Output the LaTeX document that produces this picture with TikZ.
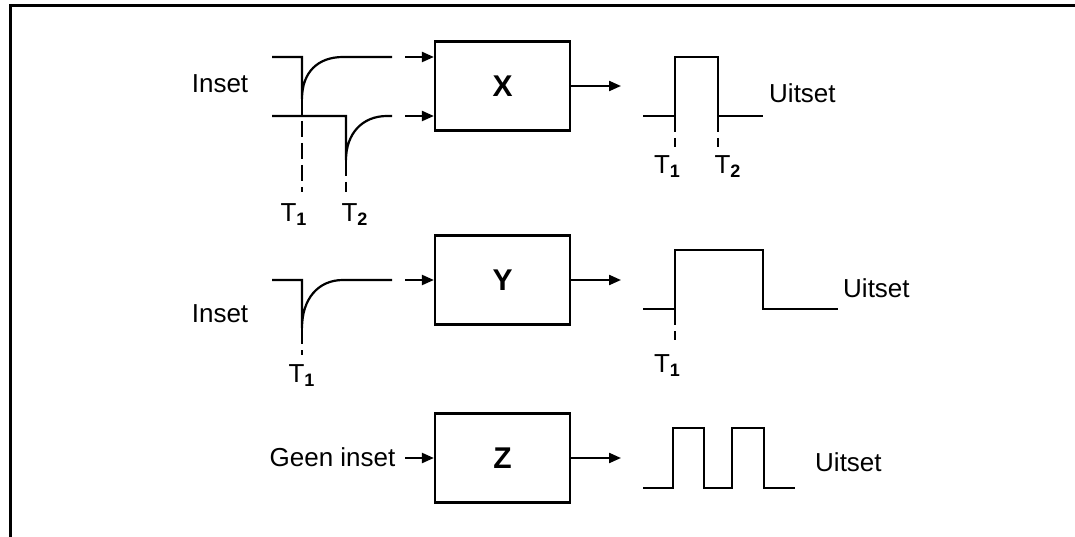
\documentclass[tikz,border=0pt]{standalone}
\usepackage{fontspec}
\setmainfont{Liberation Sans}
\usepackage{tikz}
\usetikzlibrary{arrows.meta,positioning}
\newcommand\tsub[1]{T\raisebox{-4pt}{\fontsize{18}{18}\selectfont\bfseries #1}}

\begin{document}
\begin{tikzpicture}[x=1pt,y=-1pt,
  sig/.style={line width=2.2pt},
  tick/.style={line width=2.2pt,dash pattern=on 16pt off 6pt},
  pijl/.style={line width=2.2pt,-{Triangle[length=12pt,width=10pt]}},
  blok/.style={draw,line width=2.2pt,minimum width=135pt,minimum height=89pt,inner sep=0pt,font=\fontsize{30}{32}\selectfont\bfseries},
  lbl/.style={inner sep=0pt,font=\fontsize{26}{30}\selectfont}]
\useasboundingbox (0,0) rectangle (1075,537);
\draw[line width=3.5pt] (1075,5.5) -- (10.5,5.5) -- (10.5,537);
%
% blokke
\node[blok] (X) at (502.5,86) {X};
\node[blok] (Y) at (502.5,280) {Y};
\node[blok] (Z) at (502.5,458) {Z};
%
% X: twee insette
\node[lbl,anchor=base] (insX) at (220,93) {Inset};
\draw[sig] (272,57) -- (302,57) -- (302,99) .. controls (302,72) and (318,57) .. (343,57) -- (392,57);
\draw[sig] (272,116) -- (346,116) -- (346,160) .. controls (346,134) and (362,116) .. (387,116) -- (392,116);
\draw[tick] (302,99) -- (302,192);
\draw[tick] (346,160) -- (346,192);
\node[lbl,anchor=base] (t1X) at (293.5,222) {\tsub{1}};
\node[lbl,anchor=base] (t2X) at (354.5,222) {\tsub{2}};
\coordinate (inA) at (405,57);
\coordinate (inB) at (405,116);
\draw[pijl] (inA) -- (inA -| X.west);
\draw[pijl] (inB) -- (inB -| X.west);
\coordinate (outX) at (621,86);
\draw[pijl] (X) -- (outX);
\draw[sig] (643,116) -- (675,116) -- (675,57) -- (718,57) -- (718,116) -- (763,116);
\draw[tick] (675,116) -- (675,147);
\draw[tick] (718,116) -- (718,147);
\node[lbl,anchor=base] (u1X) at (667,174) {\tsub{1}};
\node[lbl,anchor=base] (u2X) at (727.5,174) {\tsub{2}};
\node[lbl,anchor=base west] (uitX) at (769,103) {Uitset};
%
% Y: een inset
\node[lbl,anchor=base] (insY) at (220,322) {Inset};
\draw[sig] (272,280) -- (302,280) -- (302,328) .. controls (302,299) and (318,280) .. (343,280) -- (392,280);
\draw[tick] (302,328) -- (302,355);
\node[lbl,anchor=base] (t1Y) at (301.5,382) {\tsub{1}};
\coordinate (inC) at (405,280);
\draw[pijl] (inC) -- (inC -| Y.west);
\coordinate (outY) at (621,280);
\draw[pijl] (Y) -- (outY);
\draw[sig] (643,309) -- (675,309) -- (675,250) -- (763,250) -- (763,309) -- (838,309);
\draw[tick] (675,309) -- (675,340);
\node[lbl,anchor=base] (u1Y) at (667,372) {\tsub{1}};
\node[lbl,anchor=base west] (uitY) at (843,297) {Uitset};
%
% Z: geen inset
\node[lbl,anchor=base] (insZ) at (332.5,466) {Geen inset};
\coordinate (inD) at (405,458);
\draw[pijl] (inD) -- (inD -| Z.west);
\coordinate (outZ) at (621,458);
\draw[pijl] (Z) -- (outZ);
\draw[sig] (643,488) -- (673,488) -- (673,428) -- (704,428) -- (704,488) -- (732,488) -- (732,428) -- (764,428) -- (764,488) -- (795,488);
\node[lbl,anchor=base west] (uitZ) at (815,471) {Uitset};
%
\end{tikzpicture}
\end{document}
